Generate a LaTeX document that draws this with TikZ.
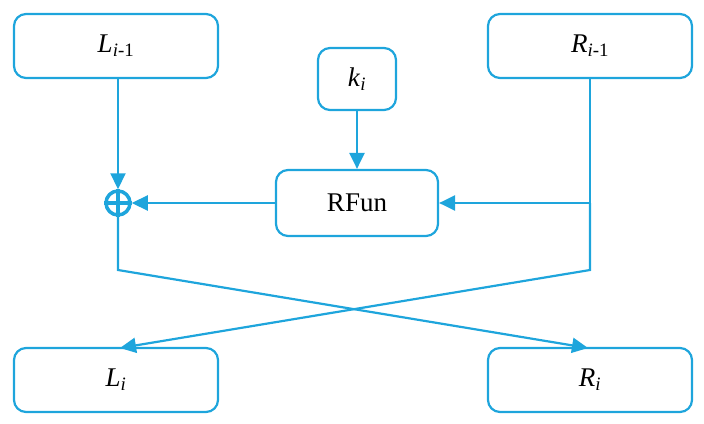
\documentclass[tikz,border=0pt]{standalone}
\usepackage{fontspec}
\setmainfont{Liberation Serif}
\usetikzlibrary{arrows.meta}
\definecolor{cy}{RGB}{30,165,220}
\begin{document}
\begin{tikzpicture}[x=1pt,y=-1pt,
 box/.style={draw=cy,line width=2.2pt,rounded corners=12pt,minimum width=204pt,minimum height=64pt,font=\fontsize{27}{30}\selectfont},
 ln/.style={draw=cy,line width=2.2pt,-{Triangle[length=16pt,width=15pt]}}]
\useasboundingbox (0,0) rectangle (704,423);
\node[box] (L1) at (116,46) {\textit{L}\textsubscript{\textit{i}-1}};
\node[box] (R1) at (590,46) {\textit{R}\textsubscript{\textit{i}-1}};
\node[box,minimum width=78pt,minimum height=62pt] (k) at (357,79) {\textit{k}\textsubscript{\textit{i}}};
\node[box,minimum width=162pt,minimum height=66pt] (F) at (357,203) {RFun};
\node[box] (L) at (116,380) {\textit{L}\textsubscript{\textit{i}}};
\node[box] (R) at (590,380) {\textit{R}\textsubscript{\textit{i}}};
\node[circle,draw=cy,line width=3.5pt,minimum size=24pt,inner sep=0pt] (x) at (118,203) {};
\draw[cy,line width=3.5pt] (x.north)--(x.south) (x.west)--(x.east);
\coordinate (a) at (590,203);
\coordinate (b) at (590,270);
\coordinate (c) at (118,270);
\draw[ln] (L1.south -| x) -- (x.north);
\draw[ln] (k.south) -- (F.north);
\draw[ln] (F.west) -- (x.east);
\draw[ln] (R1.south -| a) -- (a) -- (F.east);
\draw[ln] (a) -- (b) -- (120,348);
\draw[ln] (x.south) -- (c) -- (588,348);
\end{tikzpicture}
\end{document}
